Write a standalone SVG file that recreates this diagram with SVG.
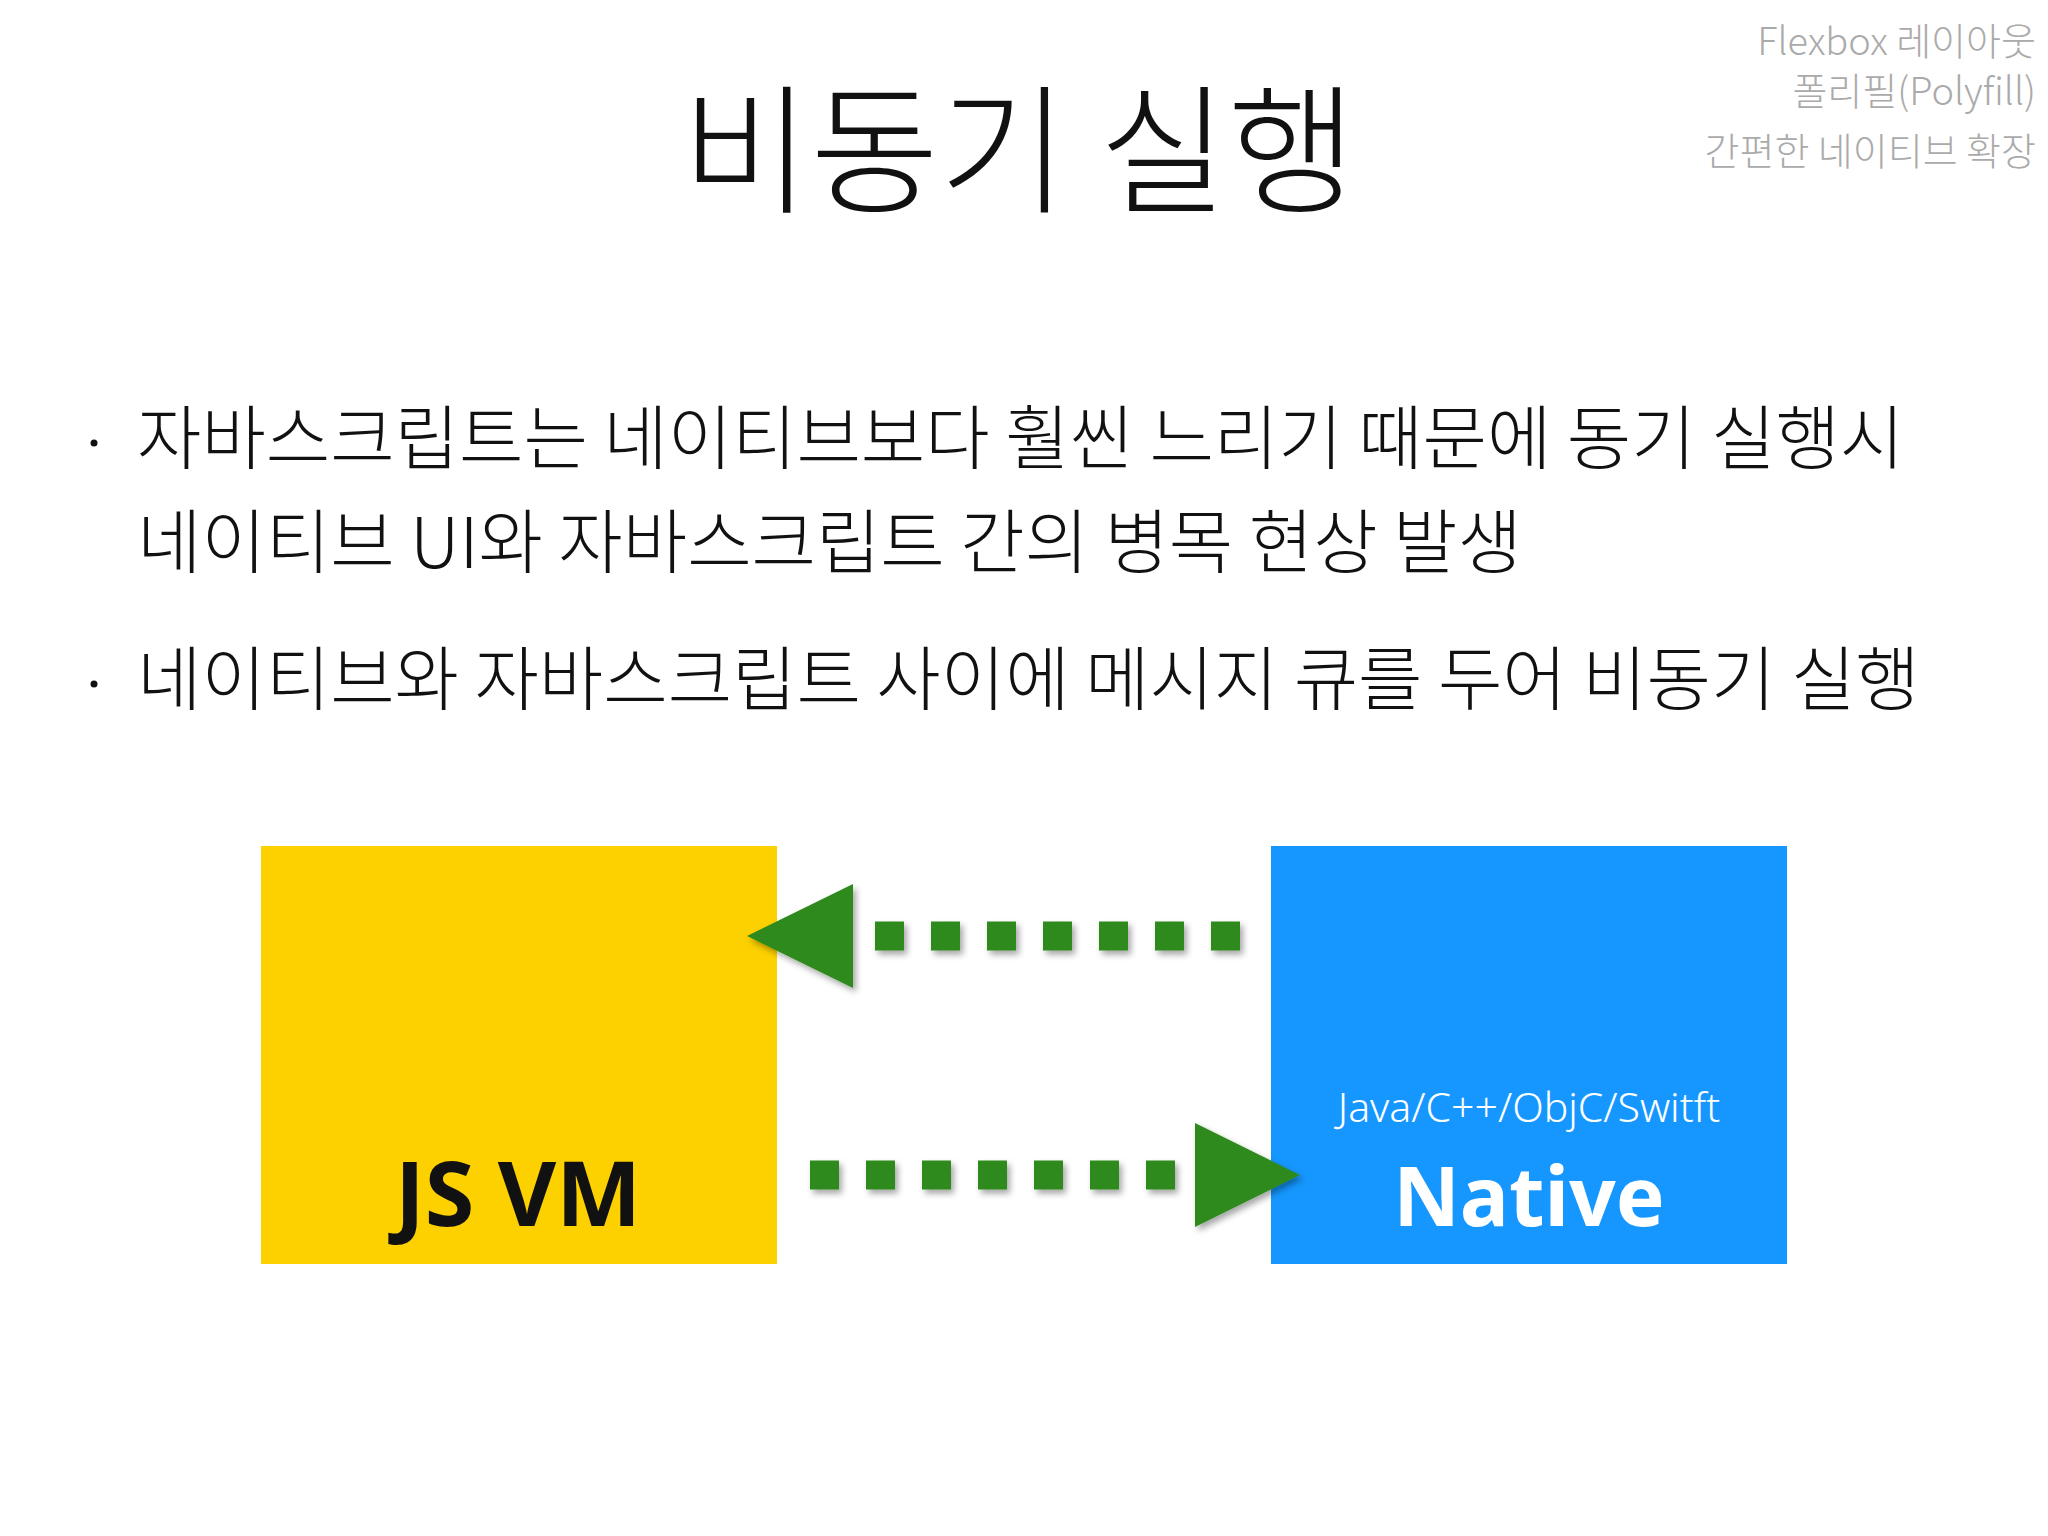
<svg xmlns="http://www.w3.org/2000/svg" width="2048" height="1536" viewBox="0 0 2048 1536">
<style>
.k{font-family:"Noto Sans CJK KR","Noto Sans",sans-serif;font-weight:300}
.b{font-family:"Noto Sans","Open Sans",sans-serif}
.d{fill:none;stroke:#2f8a1c;stroke-width:29;stroke-dasharray:29 27}
</style>
<defs><filter id="sh" x="-20%" y="-50%" width="140%" height="200%"><feDropShadow dx="3" dy="4" stdDeviation="3" flood-opacity="0.35"/></filter></defs>
<rect width="2048" height="1536" fill="#fff"/>
<text class="k" x="1019" y="202" font-size="140" font-weight="200" text-anchor="middle" fill="#111">비동기 실행</text>
<g class="k" font-size="38" font-weight="200" fill="#aaa" text-anchor="end">
<text x="2036" y="55">Flexbox 레이아웃</text>
<text x="2036" y="105">폴리필(Polyfill)</text>
<text x="2036" y="165">간편한 네이티브 확장</text>
</g>
<g class="k" font-size="70" font-weight="200" fill="#111">
<circle cx="94" cy="443" r="3.5"/>
<text x="137" y="464">자바스크립트는 네이티브보다 훨씬 느리기 때문에 동기 실행시</text>
<text x="137" y="568">네이티브 UI와 자바스크립트 간의 병목 현상 발생</text>
<circle cx="94" cy="684" r="3.5"/>
<text x="137" y="705">네이티브와 자바스크립트 사이에 메시지 큐를 두어 비동기 실행</text>
</g>
<g id="jsvm"><rect x="261" y="846" width="516" height="418" fill="#fdd000"/>
<text class="b" x="518" y="1226" font-size="90" font-weight="bold" text-anchor="middle" fill="#111">JS VM</text></g>
<g id="native"><rect x="1271" y="846" width="516" height="418" fill="#1597ff"/>
<text class="b" x="1529" y="1122" font-size="41" font-weight="300" text-anchor="middle" fill="#fff">Java/C++/ObjC/Switft</text>
<text class="b" x="1529" y="1226" font-size="82" font-weight="bold" text-anchor="middle" fill="#fff">Native</text></g>
<g id="connectors" filter="url(#sh)">
<line class="d" x1="875" y1="936" x2="1241" y2="936"/>
<polygon points="747,936 853,884 853,988" fill="#2f8a1c"/>
<line class="d" x1="810" y1="1175" x2="1176" y2="1175"/>
<polygon points="1300,1175 1195,1123 1195,1227" fill="#2f8a1c"/>
</g>
</svg>
